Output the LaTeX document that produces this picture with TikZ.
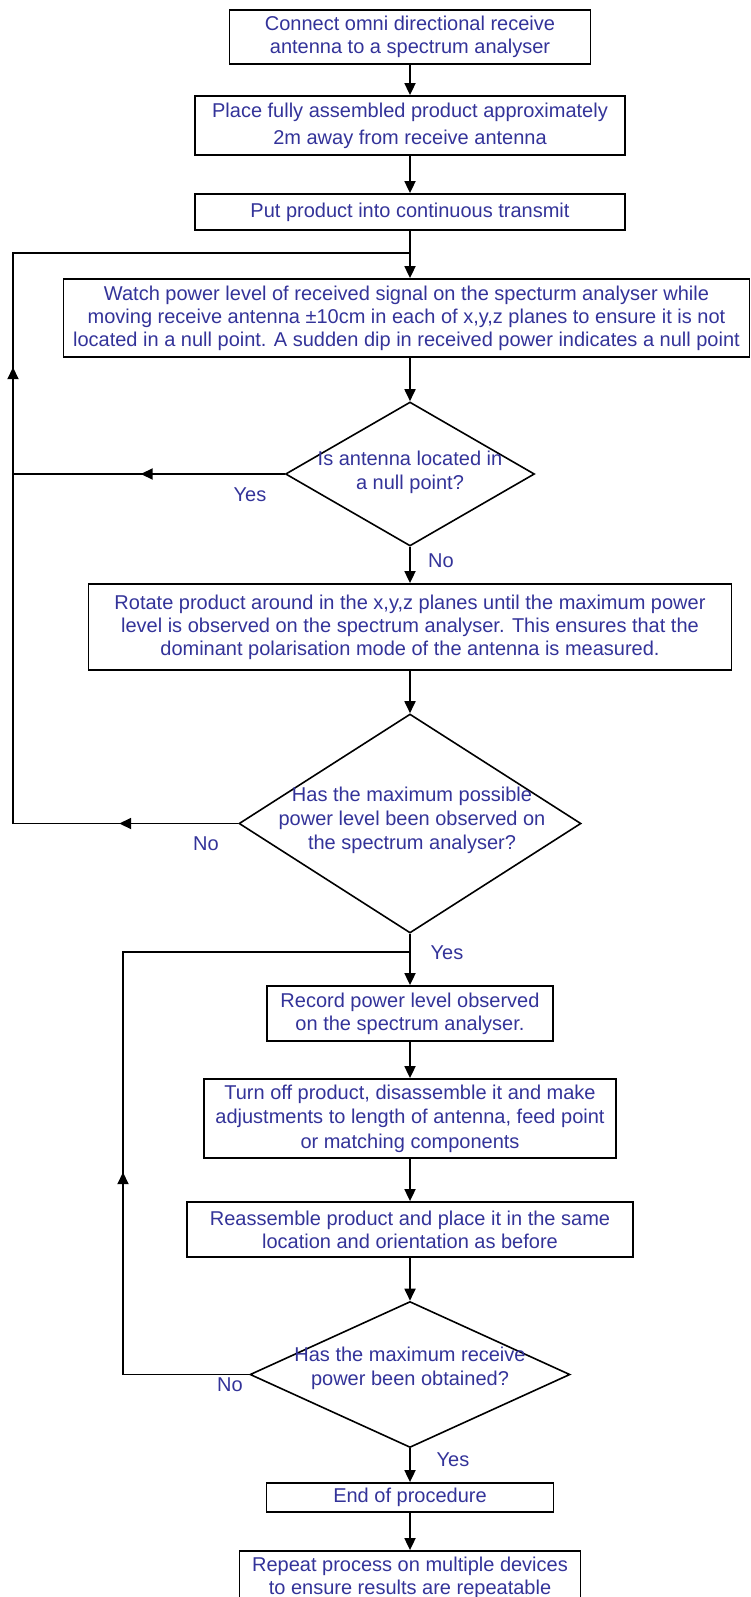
\documentclass[tikz,border=0pt]{standalone}
\usepackage{fontspec}
\setmainfont{Liberation Sans}
\usetikzlibrary{shapes.geometric}
\usetikzlibrary{arrows.meta}
\usetikzlibrary{decorations.markings}
\definecolor{txtblue}{RGB}{51,51,153}

\tikzset{
  stepbox/.style={draw, line width=1.8pt, align=center, text=txtblue, inner sep=0pt, font=\fontsize{20}{23}\selectfont},
  question/.style={draw, diamond, line width=1.6pt, inner sep=0pt},
  qtext/.style={align=center, text=txtblue, inner sep=0pt, font=\fontsize{20}{24}\selectfont},
  answer/.style={text=txtblue, inner sep=0pt, font=\fontsize{20}{23}\selectfont},
  flow/.style={-{Triangle[length=12pt,width=11pt]}, line width=1.8pt},
  link/.style={line width=1.8pt},
  arrowat/.style={postaction={decorate, decoration={markings, mark=at position #1 with {\arrow{Triangle[length=12pt,width=11pt]}}}}},
}

\begin{document}
\begin{tikzpicture}[x=1pt, y=-1pt]
  \useasboundingbox (0,0) rectangle (751,1597);
  \clip (0,0) rectangle (751,1597);

  % steps and questions
  \node[stepbox, minimum width=361pt, minimum height=54pt] (b1) at (410,37) {Connect omni directional receive\\antenna to a spectrum analyser};
  \node[stepbox, minimum width=430pt, minimum height=59pt, font=\fontsize{20}{27}\selectfont] (b2) at (410,125.5) {Place fully assembled product approximately\\2m away from receive antenna};
  \node[stepbox, minimum width=430pt, minimum height=36pt] (b3) at (410,212) {Put product into continuous transmit};
  \node[stepbox, minimum width=686pt, minimum height=78pt] (b4) at (406.5,318) {Watch power level of received signal on the specturm analyser while\\moving receive antenna ±10cm in each of x,y,z planes to ensure it is not\\located in a null point. A sudden dip in received power indicates a null point};
  \node[question, minimum width=249pt, minimum height=144pt] (d1) at (410,474) {};
  \node[qtext] (d1t) at (410,472) {Is antenna located in\\a null point?};
  \node[stepbox, minimum width=643pt, minimum height=86pt] (b5) at (410,627) {Rotate product around in the x,y,z planes until the maximum power\\level is observed on the spectrum analyser. This ensures that the\\dominant polarisation mode of the antenna is measured.};
  \node[question, minimum width=342pt, minimum height=219pt] (d2) at (410,823.5) {};
  \node[qtext] (d2t) at (412,820) {Has the maximum possible\\power level been observed on\\the spectrum analyser?};
  \node[stepbox, minimum width=286pt, minimum height=55pt] (b6) at (410,1013.5) {Record power level observed\\on the spectrum analyser.};
  \node[stepbox, minimum width=412pt, minimum height=79pt, font=\fontsize{20}{24.5}\selectfont] (b7) at (410,1118.5) {Turn off product, disassemble it and make\\adjustments to length of antenna, feed point\\or matching components};
  \node[stepbox, minimum width=446pt, minimum height=55pt] (b8) at (410,1229.5) {Reassemble product and place it in the same\\location and orientation as before};
  \node[question, minimum width=320pt, minimum height=146pt] (d3) at (410,1374.5) {};
  \node[qtext] (d3t) at (410,1368) {Has the maximum receive\\power been obtained?};
  \node[stepbox, minimum width=287pt, minimum height=29pt] (b9) at (410,1497.5) {End of procedure};
  \node[stepbox, minimum width=341pt, minimum height=54pt] (b10) at (410,1578) {Repeat process on multiple devices\\to ensure results are repeatable};

  % answers
  \node[answer] (yes1) at (250,495) {Yes};
  \node[answer] (no1) at (441,561) {No};
  \node[answer] (no2) at (206,844) {No};
  \node[answer] (yes2) at (447,953) {Yes};
  \node[answer] (no3) at (230,1385) {No};
  \node[answer] (yes3) at (453,1460) {Yes};

  % loop corners
  \coordinate (loopA) at (13,253);
  \coordinate (join1) at (410,253);
  \coordinate (loopB) at (123,952);
  \coordinate (join2) at (410,952);

  % connectors
  \draw[flow] (b1.south) -- (b2.north);
  \draw[flow] (b2.south) -- (b3.north);
  \draw[flow] (b3.south) -- (b3.south |- b4.north);
  \draw[flow] (d1.north |- b4.south) -- (d1.north);
  \draw[link, arrowat=144pt] (d1.west) -- (d1.west -| loopA);
  \draw[flow] (d1.south) -- (b5.north);
  \draw[flow] (b5.south) -- (d2.north);
  \draw[link, arrowat=119pt, arrowat=681.5pt] (d2.west) -| (loopA) -- (join1);
  \draw[flow] (d2.south) -- (b6.north);
  \draw[flow] (b6.south) -- (b7.north);
  \draw[flow] (b7.south) -- (b8.north);
  \draw[flow] (b8.south) -- (d3.north);
  \draw[link, arrowat=328.5pt] (d3.west) -| (loopB) -- (join2);
  \draw[flow] (d3.south) -- (b9.north);
  \draw[flow] (b9.south) -- (b10.north);
\end{tikzpicture}
\end{document}
